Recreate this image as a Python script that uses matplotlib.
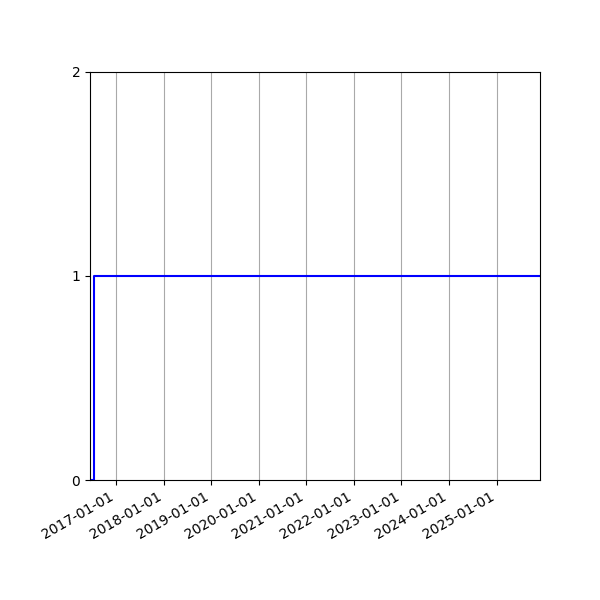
import numpy as np
import pandas as pd
import matplotlib
matplotlib.use('Agg')
import matplotlib.pyplot as plt
import matplotlib.dates as mdates

# step data
dates = pd.to_datetime(['2016-06-14', '2016-07-18', '2025-12-01'])
values = [0, 1, 1]
tick_years = list(range(2017, 2026))

fig = plt.figure(figsize=(6, 6), dpi=100)
ax = fig.add_axes([0.15, 0.2, 0.75, 0.68])
ax.plot(dates, values, drawstyle='steps-post', color='b', linewidth=1.5)

ax.set_xlim(dates[0], dates[-1])
ax.set_ylim(0, 2)
ax.set_yticks([0, 1, 2])
ax.set_xticks(pd.to_datetime([f'{y}-01-01' for y in tick_years]))
ax.xaxis.set_major_formatter(mdates.DateFormatter('%Y-%m-%d'))
ax.grid(axis='x', color='darkgray', linewidth=0.8)
for lab in ax.get_xticklabels():
    lab.set_rotation(30)
    lab.set_ha('right')

fig.savefig('out.png')
